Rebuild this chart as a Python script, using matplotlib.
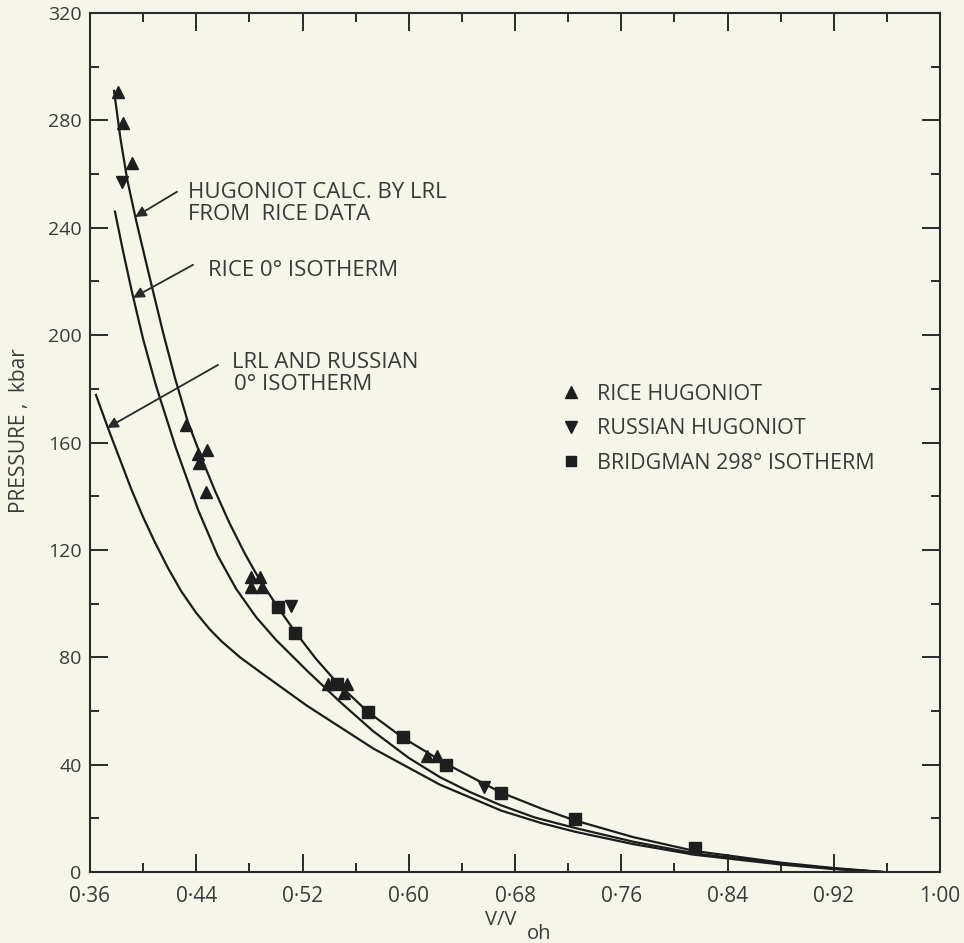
import matplotlib
matplotlib.use("Agg")
import matplotlib.pyplot as plt
from matplotlib.ticker import MultipleLocator, FixedLocator
from matplotlib.lines import Line2D

plt.rcParams['font.family'] = ['Open Sans', 'DejaVu Sans']

# ---- data ----
hug_v = [0.3781, 0.3830, 0.3880, 0.3946, 0.4037, 0.4150, 0.4240, 0.4338, 0.4450, 0.4541,
         0.4650, 0.4767, 0.4870, 0.5016, 0.5144, 0.5300, 0.5460, 0.5693, 0.5957, 0.6281,
         0.6695, 0.7000, 0.7252, 0.7689, 0.8156, 0.8818, 0.9195, 0.9571]
hug_p = [291.0, 273.0, 258.0, 243.0, 224.0, 201.0, 184.0, 167.5, 153.0, 142.0,
         130.0, 118.5, 109.5, 98.5, 89.5, 79.5, 70.5, 59.6, 50.0, 40.3,
         29.6, 23.6, 19.2, 13.0, 7.8, 3.4, 1.5, 0.0]

rice_iso_v = [0.3788, 0.3850, 0.3914, 0.4000, 0.4095, 0.4243, 0.4413, 0.4560, 0.4700, 0.4850,
              0.5000, 0.5234, 0.5480, 0.5731, 0.6000, 0.6236, 0.6460, 0.6687, 0.6950, 0.7252,
              0.7689, 0.8156, 0.8818, 0.9195, 0.9571]
rice_iso_p = [246.0, 231.0, 216.5, 198.5, 181.5, 158.5, 135.0, 118.0, 105.5, 95.0,
              86.5, 75.0, 63.5, 52.5, 42.5, 35.3, 29.8, 25.0, 20.3, 16.4,
              11.3, 6.9, 3.0, 1.3, 0.0]

lrl_iso_v = [0.3645, 0.3736, 0.3911, 0.4000, 0.4087, 0.4190, 0.4288, 0.4400, 0.4500, 0.4589,
             0.4729, 0.4900, 0.5232, 0.5733, 0.6236, 0.6700, 0.7000, 0.7252, 0.7689, 0.8156,
             0.8818, 0.9195, 0.9571]
lrl_iso_p = [177.7, 165.3, 142.6, 132.2, 123.0, 113.0, 104.5, 96.5, 90.5, 86.0,
             80.0, 73.8, 62.0, 46.0, 32.5, 22.8, 18.2, 15.0, 10.4, 6.4,
             2.7, 1.1, 0.0]

rice_hug_v = [0.3811, 0.3848, 0.3919, 0.4323, 0.4413, 0.4481, 0.4421, 0.4473, 0.4812, 0.4880,
              0.4812, 0.4895, 0.5392, 0.5535, 0.5513, 0.6138, 0.6213]
rice_hug_p = [290.6, 279.0, 264.0, 166.5, 155.7, 157.2, 152.4, 141.6, 109.9, 109.9,
              106.2, 106.2, 70.0, 70.0, 66.7, 43.2, 43.2]

russ_hug_v = [0.3841, 0.5114, 0.6567]
russ_hug_p = [257.0, 99.1, 31.7]

bridg_v = [0.5016, 0.5144, 0.5460, 0.5693, 0.5957, 0.6281, 0.6695, 0.7252, 0.8156]
bridg_p = [98.7, 89.0, 70.0, 59.6, 50.3, 39.9, 29.4, 19.7, 8.9]

x_ticks = [0.36, 0.44, 0.52, 0.60, 0.68, 0.76, 0.84, 0.92, 1.00]
x_tick_labels = ['0\u00b736', '0\u00b744', '0\u00b752', '0\u00b760', '0\u00b768',
                 '0\u00b776', '0\u00b784', '0\u00b792', '1\u00b700']
y_ticks = [0, 40, 80, 120, 160, 200, 240, 280, 320]

# ---- figure ----
BG = '#f5f5ea'
TXT = '#3a3a3a'
W, H = 964, 943
fig = plt.figure(figsize=(W / 100, H / 100), dpi=100, facecolor=BG)
ax = fig.add_axes([90 / W, 1 - 872 / H, (940 - 90) / W, (872 - 13) / H])
ax.set_facecolor(BG)

lc = '#1c1c1c'
ax.plot(hug_v, hug_p, color=lc, lw=1.6)
ax.plot(rice_iso_v, rice_iso_p, color=lc, lw=1.6)
ax.plot(lrl_iso_v, lrl_iso_p, color=lc, lw=1.6)

mc = '#1e1e1e'
ax.plot(rice_hug_v, rice_hug_p, ls='none', marker='^', ms=9, color=mc, mec=mc)
ax.plot(russ_hug_v, russ_hug_p, ls='none', marker='v', ms=9, color=mc, mec=mc)
ax.plot(bridg_v, bridg_p, ls='none', marker='s', ms=8, color=mc, mec=mc)

ax.set_xlim(0.36, 1.00)
ax.set_ylim(0, 320)
ax.xaxis.set_major_locator(FixedLocator(x_ticks))
ax.set_xticklabels(x_tick_labels)
ax.xaxis.set_minor_locator(MultipleLocator(0.04))
ax.yaxis.set_major_locator(FixedLocator(y_ticks))
ax.yaxis.set_minor_locator(MultipleLocator(20))

for s in ax.spines.values():
    s.set_linewidth(1.5)
    s.set_color('#2a2a2a')
ax.tick_params(which='both', direction='in', top=True, right=True, color='#2a2a2a')
ax.tick_params(which='major', length=13, width=1.4, labelcolor=TXT)
ax.tick_params(which='minor', length=6.5, width=1.4)
ax.tick_params(axis='x', which='major', pad=10, labelsize=15)
ax.tick_params(axis='y', which='major', pad=6, labelsize=14)

# ---- annotations ----
tk = dict(color=TXT, fontsize=16, ha='left', va='center', transform=fig.transFigure)
arrow = dict(arrowstyle='-|>', color='#2a2a2a', lw=1.3, mutation_scale=16,
             shrinkA=0, shrinkB=0)

fig.text(188 / W, 1 - 192 / H, 'HUGONIOT CALC. BY LRL', **tk)
fig.text(188 / W, 1 - 215 / H, 'FROM  RICE DATA', **tk)
ax.annotate('', xy=(0.3939, 244.0), xytext=(0.4255, 253.4), arrowprops=arrow)

fig.text(208 / W, 1 - 270 / H, 'RICE 0\u00b0 ISOTHERM', **tk)
ax.annotate('', xy=(0.3924, 213.9), xytext=(0.4376, 226.2), arrowprops=arrow)

fig.text(232 / W, 1 - 362 / H, 'LRL AND RUSSIAN', **tk)
fig.text(234 / W, 1 - 384 / H, '0\u00b0 ISOTHERM', **tk)
ax.annotate('', xy=(0.3728, 165.4), xytext=(0.4564, 188.9), arrowprops=arrow)

# ---- legend ----
handles = [Line2D([], [], ls='none', marker='^', ms=8, color=mc),
           Line2D([], [], ls='none', marker='v', ms=8, color=mc),
           Line2D([], [], ls='none', marker='s', ms=7, color=mc)]
labels = ['RICE HUGONIOT', 'RUSSIAN HUGONIOT', 'BRIDGMAN 298\u00b0 ISOTHERM']
leg = ax.legend(handles, labels, loc='upper left', bbox_to_anchor=(561 / W, 1 - 384 / H),
                bbox_transform=fig.transFigure, frameon=False, fontsize=15.5,
                handlelength=0.9, handletextpad=0.75, labelspacing=0.62,
                borderpad=0, borderaxespad=0)
for t in leg.get_texts():
    t.set_color(TXT)

# ---- axis labels ----
fig.text(20 / W, 1 - 431 / H, 'PRESSURE ,  kbar', rotation=90, ha='center',
         va='center', fontsize=15, color=TXT)
fig.text(501 / W, 1 - 920 / H, 'V/V', ha='center', va='center', fontsize=14.5, color=TXT)
fig.text(539 / W, 1 - 934 / H, 'oh', ha='center', va='center', fontsize=14.5, color=TXT)

fig.savefig('out.png', dpi=100, facecolor=BG)
